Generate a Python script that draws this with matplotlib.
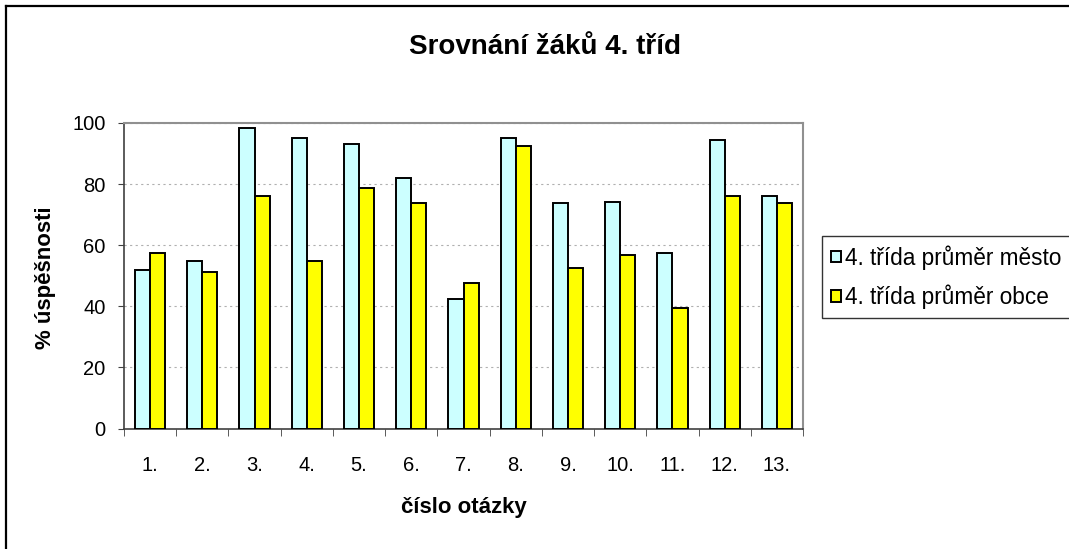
import numpy as np
import matplotlib
matplotlib.use("Agg")
import matplotlib.pyplot as plt
from matplotlib.lines import Line2D

plt.rcParams['font.family'] = ['Liberation Sans', 'DejaVu Sans']

otazky = ["1.", "2.", "3.", "4.", "5.", "6.", "7.", "8.", "9.", "10.", "11.", "12.", "13."]
mesto = [51.9, 54.9, 98.3, 95.0, 93.1, 81.9, 42.5, 95.0, 73.7, 74.3, 57.5, 94.4, 76.2]
obce = [57.5, 51.2, 76.2, 54.9, 78.8, 73.7, 47.5, 92.6, 52.5, 56.9, 39.3, 76.2, 73.7]

W, H = 1069, 549
fig = plt.figure(figsize=(W / 100, H / 100), dpi=100)
ax = fig.add_axes([124 / W, 1 - 428.5 / H, (803 - 124) / W, (428.5 - 123) / H])

x = np.arange(len(otazky))
w = 0.29
ax.bar(x - w / 2, mesto, w, color='#ccffff', edgecolor='black', linewidth=1.4,
       label='4. třída průměr město', zorder=3)
ax.bar(x + w / 2, obce, w, color='#ffff00', edgecolor='black', linewidth=1.4,
       label='4. třída průměr obce', zorder=3)

ax.set_xlim(-0.5, len(otazky) - 0.5)
ax.set_ylim(0, 100)
ax.set_yticks(range(0, 101, 20))
ax.yaxis.grid(True, linestyle=(0, (2, 3)), color='#b0b0b0', linewidth=0.8, zorder=0)

ax.set_xticks(x)
ax.set_xticklabels(otazky, fontsize=14.5)
ax.set_xticks(np.arange(-0.5, len(otazky), 1), minor=True)
ax.tick_params(axis='x', which='major', length=0, pad=20)
ax.tick_params(axis='x', which='minor', length=5, direction='out', color='#404040')
ax.tick_params(axis='y', length=4.3, pad=9, direction='out', labelsize=14.5, color='#404040')

for s in ['left', 'bottom']:
    ax.spines[s].set_color('#404040')
    ax.spines[s].set_linewidth(1.2)
for s in ['top', 'right']:
    ax.spines[s].set_color('#909090')
    ax.spines[s].set_linewidth(1.5)

fig.text(464 / W, 1 - 508 / H, "číslo otázky", fontsize=16, fontweight='bold',
         ha='center', va='center')
fig.text(45 / W, 1 - 278 / H, "% úspěšnosti", fontsize=16, fontweight='bold',
         ha='center', va='center', rotation=90)
fig.text(545 / W, 1 - 47 / H, "Srovnání žáků 4. tříd", fontsize=20,
         fontweight='bold', ha='center', va='center')

leg = fig.legend(loc='upper left', bbox_to_anchor=(822 / W, 1 - 236 / H),
                 fontsize=16.3, frameon=True, fancybox=False, handlelength=0.42,
                 handleheight=0.42, handletextpad=0.2, borderpad=0.4,
                 labelspacing=0.65, borderaxespad=0)
leg.get_frame().set_edgecolor('black')
leg.get_frame().set_linewidth(1.0)

# outer chart frame (only left and top edges visible in the crop)
fig.add_artist(Line2D([6 / W, 6 / W], [0, 1 - 6 / H], transform=fig.transFigure,
                      color='black', linewidth=1.6))
fig.add_artist(Line2D([6 / W, 1], [1 - 6 / H, 1 - 6 / H], transform=fig.transFigure,
                      color='black', linewidth=1.6))

fig.savefig("out.png", dpi=100)
